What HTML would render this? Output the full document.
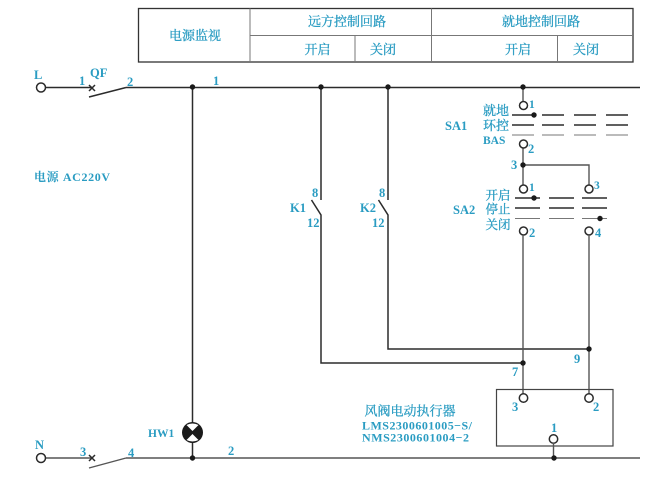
<!DOCTYPE html>
<html><head><meta charset="utf-8">
<style>
html,body{margin:0;padding:0;background:#fff;width:647px;height:479px;overflow:hidden}
svg{display:block}
text{font-family:"Liberation Serif","Noto Serif CJK SC",serif;fill:#2a9cc2;font-weight:bold;font-size:12.5px}
.c{font-weight:normal;font-size:13px;text-anchor:middle;stroke:#2a9cc2;stroke-width:.3}
.w{fill:none;stroke:#2b2b2b;stroke-width:1.5}
.g{fill:none;stroke:#555;stroke-width:1.4}
.t{fill:none;stroke:#777;stroke-width:1}
.o{fill:#fff;stroke:#2b2b2b;stroke-width:1.5}
.d{fill:#1a1a1a}
</style></head><body>
<svg width="647" height="479" viewBox="0 0 647 479" xmlns="http://www.w3.org/2000/svg">
<!-- table -->
<rect x="138.5" y="8.5" width="494.5" height="53.5" fill="none" stroke="#333" stroke-width="1.3"/>
<path class="t" stroke-width="1.3" d="M250 8.5V62M250 35.5H633M355 35.5V62M431.5 8.5V62M557.5 35.5V62"/>
<text class="c" x="195" y="40">电源监视</text>
<text class="c" x="347" y="26">远方控制回路</text>
<text class="c" x="541" y="26">就地控制回路</text>
<text class="c" x="317.5" y="54">开启</text>
<text class="c" x="383" y="54">关闭</text>
<text class="c" x="518" y="54">开启</text>
<text class="c" x="586" y="54">关闭</text>

<!-- rails -->
<path class="w" d="M45 87.5H92M126 87.5H640M89 97L126 87.5"/>
<path class="w" stroke-width="1.2" d="M89 85L95 91M95 85L89 91"/>
<path class="g" d="M45 458H92M126 458H640M89 468L126 458"/>
<path class="w" stroke-width="1.2" d="M89 455L95 461M95 455L89 461"/>
<circle class="o" cx="41" cy="87.5" r="4.5"/>
<circle class="o" cx="41" cy="458" r="4.5"/>

<!-- vertical feeder with lamp -->
<path class="w" d="M192.5 87.5V458"/>
<circle cx="192.5" cy="432.5" r="10.5" fill="#1a1a1a"/>
<path fill="#fff" d="M186.5 425Q192.5 422 198.5 425L192.5 431ZM186.5 440Q192.5 443 198.5 440L192.5 434Z"/>

<!-- K1 / K2 -->
<path class="w" d="M321 87.5V200M311.5 200L321 215V363H523"/>
<path class="w" d="M388 87.5V200M378.5 200L388 215V349H589"/>

<!-- SA1 -->
<path class="g" d="M523 87.5V102M523 148V189"/>
<circle class="o" cx="523.5" cy="105.5" r="4"/>
<circle class="o" cx="523.5" cy="144" r="4"/>
<path class="w" stroke-width="1.1" d="M512 115H534M542 115H564M574 115H596M606 115H628M512 125H534M542 125H564M574 125H596M606 125H628"/>
<path class="t" d="M512 135H534M542 135H564M574 135H596M606 135H628"/>

<!-- SA1-SA2 link -->
<path class="g" d="M523 165H589V185"/>
<circle class="o" cx="523.5" cy="189" r="4"/>
<circle class="o" cx="589" cy="189" r="4"/>
<circle class="o" cx="523.5" cy="231" r="4"/>
<circle class="o" cx="589" cy="231" r="4"/>
<path class="w" stroke-width="1.1" d="M515 198H540M549 198H574M582 198H607M515 208H540M549 208H574M582 208H607"/>
<path class="t" d="M515 218.5H540M549 218.5H574M582 218.5H607"/>

<!-- down to actuator -->
<path class="g" d="M523 235V394M589 235V394"/>
<rect x="496.5" y="389.5" width="116.5" height="56.5" fill="none" stroke="#444" stroke-width="1.2"/>
<circle class="o" cx="523.5" cy="398" r="4.2"/>
<circle class="o" cx="589" cy="398" r="4.2"/>
<circle class="o" cx="553.5" cy="439" r="4.2"/>
<path class="g" d="M553.5 443V458"/>

<!-- dots -->
<g class="d">
<circle cx="192.5" cy="87" r="2.7"/><circle cx="321" cy="87" r="2.7"/><circle cx="388" cy="87" r="2.7"/><circle cx="523" cy="87" r="2.7"/>
<circle cx="534" cy="115" r="2.7"/><circle cx="523" cy="165" r="2.7"/><circle cx="534" cy="198" r="2.7"/><circle cx="600" cy="218.5" r="2.7"/>
<circle cx="589" cy="349" r="2.7"/><circle cx="523" cy="363" r="2.7"/><circle cx="554" cy="458" r="2.7"/><circle cx="192.5" cy="458" r="2.7"/>
</g>

<!-- labels -->
<text x="34" y="79">L</text>
<text x="79" y="85">1</text>
<text x="90" y="77">QF</text>
<text x="127" y="86">2</text>
<text x="213" y="85">1</text>
<text x="34" y="181" textLength="76" style="font-size:12px">电源 AC220V</text>
<text x="35" y="449">N</text>
<text x="80" y="456">3</text>
<text x="128" y="457">4</text>
<text x="148" y="437" style="font-size:11.5px">HW1</text>
<text x="228" y="455">2</text>
<text x="312" y="197">8</text>
<text x="290" y="212">K1</text>
<text x="307" y="227">12</text>
<text x="379" y="197">8</text>
<text x="360" y="212">K2</text>
<text x="372" y="227">12</text>

<text x="529" y="108" style="font-size:11.5px">1</text>
<text x="445" y="130">SA1</text>
<text class="c" x="496" y="115">就地</text>
<text class="c" x="496" y="130">环控</text>
<text x="483" y="144" style="font-size:11.5px">BAS</text>
<text x="528" y="153">2</text>
<text x="511" y="169">3</text>
<text x="529" y="191" style="font-size:11.5px">1</text>
<text x="594" y="189" style="font-size:11.5px">3</text>
<text x="453" y="214">SA2</text>
<text class="c" x="498" y="199.5" style="font-size:12.5px">开启</text>
<text class="c" x="498" y="213.5" style="font-size:12.5px">停止</text>
<text class="c" x="498" y="229" style="font-size:12.5px">关闭</text>
<text x="529" y="237">2</text>
<text x="595" y="237">4</text>
<text x="512" y="376">7</text>
<text x="574" y="363">9</text>
<text x="512" y="411">3</text>
<text x="593" y="411">2</text>
<text x="551" y="432">1</text>
<text class="c" x="410" y="415.5">风阀电动执行器</text>
<text x="362" y="429.5" textLength="110" style="font-size:12px">LMS2300601005−S/</text>
<text x="362" y="441.5" textLength="107" style="font-size:12px">NMS2300601004−2</text>
</svg>
</body></html>
